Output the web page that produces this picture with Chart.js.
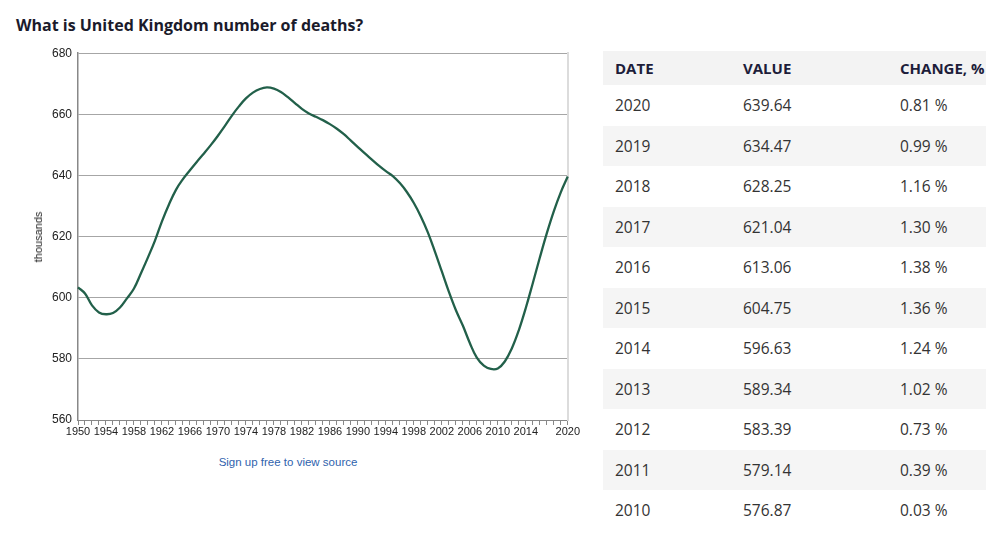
<!DOCTYPE html>
<html>
<head>
<meta charset="utf-8">
<script src="https://cdn.jsdelivr.net/npm/chart.js@4.4.1/dist/chart.umd.min.js"></script>
<style>
  body { margin: 0; background: #fff; font-family: "Open Sans", sans-serif; }
  #page { position: relative; width: 1000px; height: 533px; overflow: hidden; }
  #title { position: absolute; left: 16px; top: 14px; font: 700 16px "Open Sans", sans-serif; color: #1b1b2b; }
  #chart-box { position: absolute; left: 20px; top: 40px; width: 560px; height: 405px; }
  #ylabel { position: absolute; left: 38px; top: 237px; font: 11px "Liberation Sans", sans-serif; color: #222;
            transform: translate(-50%, -50%) rotate(-90deg); white-space: nowrap; }
  #source { position: absolute; left: 288px; top: 462px; transform: translate(-50%, -50%);
            font: 11.5px "Liberation Sans", sans-serif; color: #2f62ad; white-space: nowrap; }
  table { position: absolute; left: 603px; top: 51px; width: 383px; border-collapse: collapse; }
  th { height: 34px; text-align: left; font: 700 15px "Open Sans", sans-serif; color: #1d1d3a; background: #f3f3f3; padding: 0; }
  td { height: 40.5px; font: 15.5px "Open Sans", sans-serif; color: #333; padding: 0; }
  tr.alt td { background: #f5f5f5; }
  .c1 { padding-left: 12px; width: 128px; }
  .c2 { width: 157px; }
</style>
</head>
<body>
<div id="page">
  <div id="title">What is United Kingdom number of deaths?</div>
  <div id="chart-box"><canvas id="chart"></canvas></div>
  <div id="ylabel">thousands</div>
  <div id="source">Sign up free to view source</div>
  <table id="tbl"></table>
</div>
<script>
const YEARS = [];
for (let y = 1950; y <= 2020; y++) YEARS.push(String(y));

// thousands of deaths, 1950..2020 (2009-2020 from the table)
const DEATHS = [
  603.4, 601.4, 597.5, 595.2, 594.6, 595.0, 596.8, 599.8, 603.0, 608.0,
  613.2, 618.7, 625.0, 630.5, 635.3, 638.8, 641.7, 644.5, 647.2, 650.0,
  653.0, 656.2, 659.6, 662.6, 665.2, 667.1, 668.3, 668.8, 668.4, 667.3,
  665.6, 663.7, 661.8, 660.3, 659.2, 658.1, 656.8, 655.3, 653.5, 651.4,
  649.3, 647.2, 645.2, 643.2, 641.4, 639.8, 637.5, 634.6, 631.0, 626.6,
  621.4, 615.2, 608.6, 602.0, 596.0, 590.9, 585.2, 580.4, 577.8, 576.70,
  576.87, 579.14, 583.39, 589.34, 596.63, 604.75, 613.06, 621.04, 628.25, 634.47,
  639.64
];

const X_LABELS = ["1950","1954","1958","1962","1966","1970","1974","1978","1982",
                  "1986","1990","1994","1998","2002","2006","2010","2014","2020"];
const Y_TICKS = [560, 580, 600, 620, 640, 660, 680];

const TABLE_HEAD = ["DATE", "VALUE", "CHANGE, %"];
const TABLE_DATES = ["2020","2019","2018","2017","2016","2015","2014","2013","2012","2011","2010"];
const TABLE_VALUES = ["639.64","634.47","628.25","621.04","613.06","604.75","596.63","589.34","583.39","579.14","576.87"];
const TABLE_CHANGE = ["0.81 %","0.99 %","1.16 %","1.30 %","1.38 %","1.36 %","1.24 %","1.02 %","0.73 %","0.39 %","0.03 %"];

const LINE = "#22604a";
const GRID = "#a6a6a6";
const AXIS = "#888888";

/* table */
const tbl = document.getElementById("tbl");
let html = "<tr>" + TABLE_HEAD.map((h, i) => '<th class="c' + (i + 1) + '">' + h + "</th>").join("") + "</tr>";
TABLE_DATES.forEach((d, i) => {
  html += '<tr class="' + (i % 2 ? "alt" : "") + '"><td class="c1">' + d + '</td><td class="c2">' +
          TABLE_VALUES[i] + "</td><td>" + TABLE_CHANGE[i] + "</td></tr>";
});
tbl.innerHTML = html;

new Chart(document.getElementById("chart"), {
  type: "line",
  data: {
    labels: YEARS,
    datasets: [{
      data: DEATHS,
      borderColor: LINE,
      borderWidth: 2.3,
      pointRadius: 0,
      tension: 0.4,
      fill: false
    }]
  },
  options: {
    responsive: true,
    maintainAspectRatio: false,
    animation: false,
    layout: { padding: { top: 12, right: 10, left: 0, bottom: 0 } },
    plugins: { legend: { display: false }, tooltip: { enabled: false } },
    scales: {
      x: {
        offset: false,
        grid: { display: true, drawOnChartArea: false, tickLength: 5, color: AXIS },
        border: { color: AXIS, width: 1 },
        afterFit: (s) => { s.height = 25; },
        ticks: {
          autoSkip: false,
          maxRotation: 0,
          padding: 0,
          color: "#222",
          font: { family: "Liberation Sans", size: 11 },
          callback: function (v) {
            const lbl = this.getLabelForValue(v);
            return X_LABELS.includes(lbl) ? lbl : "";
          }
        }
      },
      y: {
        min: Y_TICKS[0],
        max: Y_TICKS[Y_TICKS.length - 1],
        afterFit: (s) => { s.width = 58; },
        afterBuildTicks: (s) => { s.ticks = Y_TICKS.map(v => ({ value: v })); },
        grid: { color: GRID, drawTicks: false, lineWidth: 1 },
        border: { color: AXIS, width: 1.5 },
        ticks: { padding: 6, color: "#222", font: { family: "Liberation Sans", size: 12 } }
      },
      y2: {
        position: "right",
        display: true,
        afterFit: (s) => { s.width = 0; },
        grid: { display: false },
        ticks: { display: false },
        border: { color: "#dcdcdc", width: 2 }
      }
    }
  }
});
</script>
</body>
</html>
